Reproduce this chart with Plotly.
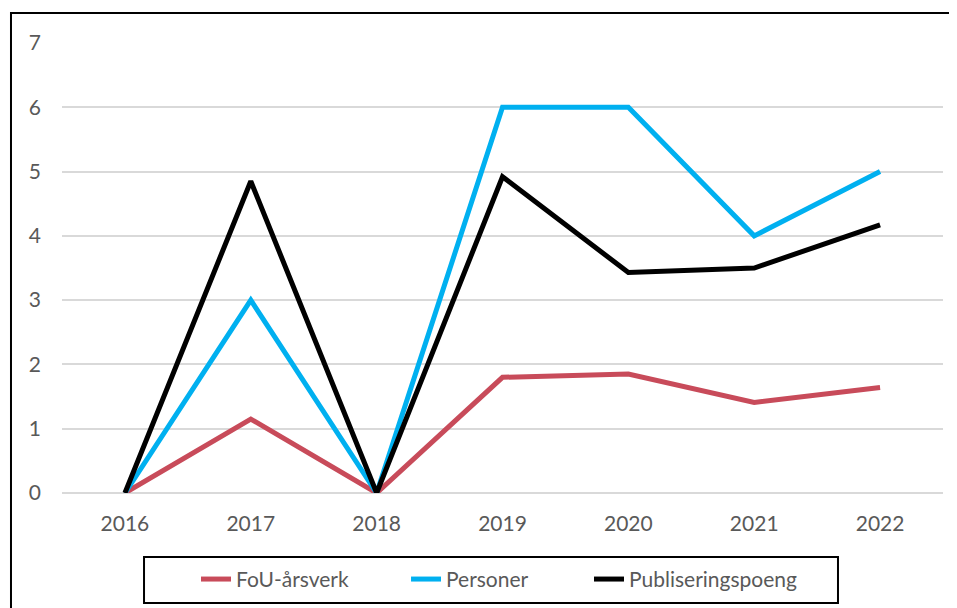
import plotly.graph_objects as go

years = ['2016', '2017', '2018', '2019', '2020', '2021', '2022']
fou_arsverk = [0, 1.15, 0, 1.80, 1.85, 1.41, 1.64]
personer = [0, 3, 0, 6, 6, 4, 5]
publiseringspoeng = [0, 4.85, 0, 4.92, 3.43, 3.50, 4.17]

series = [
    ('FoU-årsverk', fou_arsverk, '#C84B5A', 'legend'),
    ('Personer', personer, '#00B0F0', 'legend2'),
    ('Publiseringspoeng', publiseringspoeng, '#000000', 'legend3'),
]

fig = go.Figure()
for name, vals, color, leg in series:
    fig.add_trace(go.Scatter(
        x=years,
        y=vals,
        name=name,
        mode='lines',
        line=dict(color=color, width=5),
        legend=leg
    ))


def legend_at(x):
    # one legend per series so each entry can sit where it does in the original
    return dict(
        orientation='h',
        x=x,
        xanchor='left',
        y=-0.192,
        yanchor='middle',
        borderwidth=0,
        bgcolor='rgba(0,0,0,0)',
        font=dict(size=21, color='#595959')
    )


# page body adds an 8px offset, margins compensate for it
fig.update_layout(
    width=957,
    height=608,
    margin=dict(l=54, r=22, t=35, b=123),
    paper_bgcolor='white',
    plot_bgcolor='white',
    font=dict(family='Lato, Open Sans, sans-serif', size=21, color='#595959'),
    showlegend=True,
    legend=legend_at(0.1521),
    legend2=legend_at(0.3905),
    legend3=legend_at(0.5982),
    xaxis=dict(
        type='category',
        range=[-0.5, 6.5],
        showgrid=False,
        showline=False,
        ticks='',
        ticklabelstandoff=16
    ),
    yaxis=dict(
        range=[0, 7],
        dtick=1,
        showgrid=True,
        gridcolor='#D9D9D9',
        gridwidth=1.5,
        zeroline=True,
        zerolinecolor='#D9D9D9',
        zerolinewidth=1.5,
        ticks='',
        ticklabelstandoff=20
    ),
    shapes=[
        # outer chart border
        dict(
            type='rect',
            xref='paper', yref='paper',
            x0=-0.0579, x1=1.03,
            y0=-0.30, y1=1.0667,
            line=dict(color='black', width=2),
            layer='below'
        ),
        # legend box
        dict(
            type='rect',
            xref='paper', yref='paper',
            x0=0.0931, x1=0.8808,
            y0=-0.2444, y1=-0.1422,
            line=dict(color='black', width=2),
            layer='below'
        ),
    ]
)

fig.write_html('out.html')
